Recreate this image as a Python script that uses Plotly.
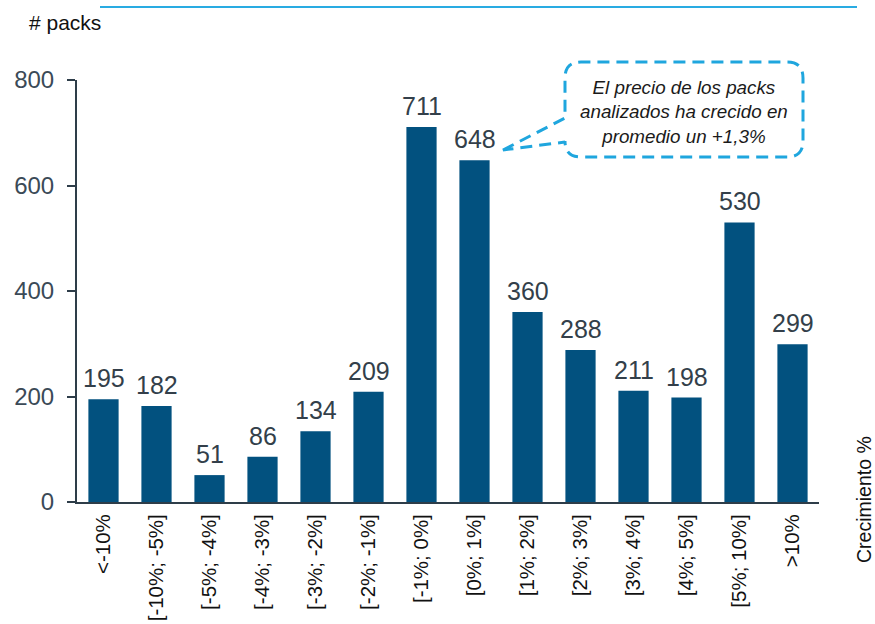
import plotly.graph_objects as go

# Price-growth buckets and number of packs in each
categories = ["<-10%", "[-10%; -5%]", "[-5%; -4%]", "[-4%; -3%]", "[-3%; -2%]",
              "[-2%; -1%]", "[-1%; 0%]", "[0%; 1%]", "[1%; 2%]", "[2%; 3%]",
              "[3%; 4%]", "[4%; 5%]", "[5%; 10%]", ">10%"]
packs = [195, 182, 51, 86, 134, 209, 711, 648, 360, 288, 211, 198, 530, 299]
y_ticks = [0, 200, 400, 600, 800]

W, H = 875, 624
ML, MR, MT, MB = 77, 56, 80, 122
PW, PH = W - ML - MR, H - MT - MB

BAR = "#02517f"
AXIS = "#2e3d49"
TXT = "#333f4a"
CYAN = "#1fa6de"
FONT = "Liberation Sans, Arial, sans-serif"


def px(x, y):
    """Pixel position on the page -> paper coordinates."""
    return (x - ML) / PW, (MT + PH - y) / PH


fig = go.Figure(go.Bar(x=categories, y=packs, marker_color=BAR,
                       marker_line_width=0, hoverinfo="skip"))

# value labels above each bar
for c, v in zip(categories, packs):
    fig.add_annotation(x=c, y=v, text=str(v), showarrow=False, yanchor="bottom",
                       yshift=5, font=dict(size=25, color=TXT, family=FONT))

# callout bubble with its pointer toward the [0%; 1%] bar
L, R, T, B, r = 565, 803, 62, 157, 16
pts = [("M", (503, 150)), ("L", (565, 118)), ("L", (L, T + r)),
       ("Q", (L, T), (L + r, T)), ("L", (R - r, T)), ("Q", (R, T), (R, T + r)),
       ("L", (R, B - r)), ("Q", (R, B), (R - r, B)), ("L", (L + r, B)),
       ("Q", (L, B), (L, B - r)), ("L", (565, 142))]
path = ""
for seg in pts:
    cmd, coords = seg[0], seg[1:]
    path += cmd + " " + " ".join("%.5f,%.5f" % px(*p) for p in coords) + " "
path += "Z"
fig.add_shape(type="path", xref="paper", yref="paper", path=path,
              line=dict(color=CYAN, width=3, dash="12px,7px"), fillcolor="white")

cx, cy = px(684, 112)
fig.add_annotation(xref="paper", yref="paper", x=cx, y=cy, showarrow=False,
                   text="El precio de los packs<br>analizados ha crecido en<br>promedio un +1,3%",
                   font=dict(size=18.8, color="#1a1a1a", family=FONT, style="italic"),
                   align="center", xanchor="center", yanchor="middle")

# thin rule across the top
x0, y0 = px(100, 7)
x1, _ = px(857, 7)
fig.add_shape(type="line", xref="paper", yref="paper", x0=x0, x1=x1, y0=y0, y1=y0,
              line=dict(color="#29abe2", width=2))

ax, ay = px(27, 22)
fig.add_annotation(xref="paper", yref="paper", x=ax, y=ay, text="# packs",
                   showarrow=False, xanchor="left", yanchor="middle",
                   font=dict(size=21, color="#111111", family=FONT))

gx, gy = px(864, 500)
fig.add_annotation(xref="paper", yref="paper", x=gx, y=gy, text="Crecimiento %",
                   showarrow=False, textangle=-90, xanchor="center", yanchor="middle",
                   font=dict(size=19.5, color="#111111", family=FONT))

fig.update_layout(
    width=W, height=H, margin=dict(l=ML, r=MR, t=MT, b=MB, autoexpand=False),
    paper_bgcolor="white", plot_bgcolor="white", bargap=0.43, showlegend=False,
    font=dict(family=FONT),
    xaxis=dict(showline=True, linecolor=AXIS, linewidth=2, ticks="", tickangle=-90,
               tickfont=dict(size=20.5, color="#111111"), showgrid=False,
               ticklabelstandoff=2, fixedrange=True, automargin=False),
    yaxis=dict(range=[0, 800], tickvals=y_ticks, showline=True, linecolor=AXIS,
               linewidth=2, ticks="outside", ticklen=8, tickwidth=2, tickcolor=AXIS,
               tickfont=dict(size=24, color="#3b4a57"), showgrid=False,
               zeroline=False, ticklabelstandoff=8, fixedrange=True, automargin=False),
)

fig.write_html("out.html")
